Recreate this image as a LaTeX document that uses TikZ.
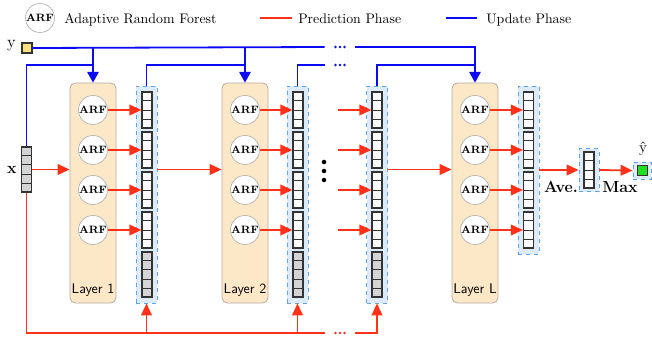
\documentclass[tikz,border=0pt]{standalone}
\usetikzlibrary{arrows.meta,calc}
\definecolor{predred}{HTML}{FF3219}
\definecolor{updblue}{HTML}{0A0AF5}
\definecolor{layerfill}{HTML}{FCE7C6}
\definecolor{layerdraw}{HTML}{B5ACA2}
\definecolor{colfill}{HTML}{DDEAF7}
\definecolor{coldraw}{HTML}{5BA3EC}
\definecolor{cellgray}{HTML}{D4D4D4}
\definecolor{celldraw}{HTML}{333333}
\definecolor{yfill}{HTML}{FBE27A}
\definecolor{yhatfill}{HTML}{22DD22}
\newcommand{\cellstack}[5]{%
  \node[cellgrp,fill=#5,minimum height=#4*6.75pt] (#1) at (#2,#3) {};
  \pgfmathtruncatemacro{\cellsm}{#4-1}
  \foreach \k in {1,...,\cellsm}{
    \draw[draw=celldraw,line width=0.6pt] ($(#1.north west)!\k/#4!(#1.south west)$) -- ($(#1.north east)!\k/#4!(#1.south east)$);
  }
}
\newcommand{\threedots}[2]{%
  \fill[#2] ($(#1)+(-4.5,0)$) circle (1.1pt);
  \fill[#2] (#1) circle (1.1pt);
  \fill[#2] ($(#1)+(4.5,0)$) circle (1.1pt);
}
\begin{document}
\begin{tikzpicture}[x=0.75pt,y=-0.75pt,
  pred/.style={draw=predred,line width=1.35pt},
  predarr/.style={pred,-{Triangle[length=9pt,width=8pt]}},
  upd/.style={draw=updblue,line width=1.35pt},
  updarr/.style={upd,-{Triangle[length=8pt,width=8.5pt]}},
  layerbox/.style={draw=layerdraw,fill=layerfill,rounded corners=4pt,minimum width=34.5pt,minimum height=165pt,inner sep=0pt,line width=0.6pt},
  arf/.style={circle,draw=gray!70,fill=white,minimum size=21.75pt,inner sep=0pt,font=\fontsize{8}{9}\selectfont\bfseries},
  colbox/.style={draw=coldraw,fill=colfill,dashed,line width=0.6pt,minimum width=15.75pt,inner sep=0pt},
  cellgrp/.style={draw=celldraw,line width=0.9pt,minimum width=7.5pt,inner sep=0pt},
  legtext/.style={inner sep=0pt,anchor=base west,font=\fontsize{10.4}{12}\selectfont},
  laylab/.style={inner sep=0pt,font=\sffamily\fontsize{10.5}{12}\selectfont},
  gapdots/.style={inner sep=0pt,minimum width=22.5pt,minimum height=6pt},
  bigdot/.style={circle,fill=black,inner sep=0pt,minimum size=3.4pt},
  boldlab/.style={inner sep=0pt,font=\fontsize{12}{14}\selectfont\bfseries}
]
\useasboundingbox (0,0) rectangle (652,339);

% legend
\node[arf] (lgarf) at (40,18) {ARF};
\node[legtext] (lgarftxt) at (64,23) {Adaptive Random Forest};
\coordinate (lr1) at (260,18);
\coordinate (lr2) at (292,18);
\draw[pred] (lr1) -- (lr2);
\node[legtext] (lgpred) at (298,23) {Prediction Phase};
\coordinate (lb1) at (446,18);
\coordinate (lb2) at (477,18);
\draw[upd] (lb1) -- (lb2);
\node[legtext] (lgupd) at (486,23) {Update Phase};

% inputs
\node[inner sep=0pt,font=\fontsize{12.5}{14}\selectfont] (ylab) at (11.5,46) {y};
\node[draw=celldraw,fill=yfill,line width=0.9pt,minimum size=7.5pt,inner sep=0pt] (ysq) at (27,48) {};
\node[inner sep=0pt,font=\fontsize{12.5}{14}\selectfont] (xlab) at (12,170) {$\mathbf{x}$};
\cellstack{xv}{26.5}{169.5}{5}{cellgray}

% layers
\node[layerbox] (L1) at (93,193) {};
\node[layerbox] (L2) at (245,193) {};
\node[layerbox] (LL) at (475,193) {};
\node[laylab] (lab1) at (93,290) {Layer 1};
\node[laylab] (lab2) at (245,290) {Layer 2};
\node[laylab] (labL) at (475,290) {Layer L};
\foreach \L/\x in {1/93,2/245,L/475}{
  \node[arf] (a\L1) at (\x,110) {ARF};
  \node[arf] (a\L2) at (\x,150) {ARF};
  \node[arf] (a\L3) at (\x,190) {ARF};
  \node[arf] (a\L4) at (\x,230) {ARF};
}

% columns
\node[colbox,minimum height=162.75pt] (col1) at (146.5,194.5) {};
\node[colbox,minimum height=162.75pt] (col2) at (297.5,194.5) {};
\node[colbox,minimum height=162.75pt] (col3) at (377,194.5) {};
\node[colbox,minimum height=126pt] (colL) at (528.5,170) {};
\foreach \c/\x in {1/147,2/298,3/377,L/528.5}{
  \cellstack{c\c a}{\x}{110}{4}{white}
  \cellstack{c\c b}{\x}{150}{4}{white}
  \cellstack{c\c c}{\x}{190}{4}{white}
  \cellstack{c\c d}{\x}{230}{4}{white}
}
\foreach \c/\x in {1/147,2/298,3/377}{
  \cellstack{c\c e}{\x}{274.5}{5}{cellgray}
}

% output
\node[colbox,minimum width=15pt,minimum height=32.25pt] (ave) at (589,170) {};
\cellstack{avec}{589}{170}{4}{white}
\node[colbox,minimum width=13.5pt,minimum height=12.75pt] (yh) at (642,170.5) {};
\node[draw=celldraw,fill=yhatfill,line width=0.9pt,minimum size=7.5pt,inner sep=0pt] (yhs) at (642.5,170.5) {};
\node[inner sep=0pt,font=\fontsize{11.5}{13}\selectfont] (yhlab) at (643,149) {\^{y}};
\node[boldlab] (avelab) at (561,187) {Ave.};
\node[boldlab] (maxlab) at (620,187) {Max};

% vertical dots
\node[bigdot] (vd1) at (324,162) {};
\node[bigdot] (vd2) at (324,171) {};
\node[bigdot] (vd3) at (324,180) {};

% gap dots
\node[gapdots] (dT) at (340,47) {};
\node[gapdots] (d2) at (340,65) {};
\node[gapdots] (dB) at (340,333) {};
\threedots{dT}{updblue}
\threedots{d2}{updblue}
\threedots{dB}{predred}

% prediction arrows ARF -> columns
\foreach \L/\c in {1/1,2/2,L/L}{
  \draw[predarr] (a\L1) -- (c\c a.west);
  \draw[predarr] (a\L2) -- (c\c b.west);
  \draw[predarr] (a\L3) -- (c\c c.west);
  \draw[predarr] (a\L4) -- (c\c d.west);
}
\coordinate (s31) at (338,110);
\coordinate (s32) at (338,150);
\coordinate (s33) at (338,190);
\coordinate (s34) at (338,230);
\draw[predarr] (s31) -- (c3a.west);
\draw[predarr] (s32) -- (c3b.west);
\draw[predarr] (s33) -- (c3c.west);
\draw[predarr] (s34) -- (c3d.west);

% main flow
\draw[predarr] (xv.east) -- (L1.west |- xv.east);
\draw[predarr] (col1.east |- xv.east) -- (L2.west |- xv.east);
\draw[predarr] (col3.east |- xv.east) -- (LL.west |- xv.east);
\draw[predarr] (colL.east) -- (ave.west);
\draw[predarr] (ave.east) -- (yh.west);

% bottom red feedback
\draw[pred] (xv.south) |- (dB.west);
\draw[predarr] (col1.south |- dB) -- (col1.south);
\draw[predarr] (col2.south |- dB) -- (col2.south);
\draw[predarr] (dB.east) -| (col3.south);

% update lines
\draw[upd] (ysq.east) -- (dT.west);
\draw[updarr] (L1.north |- dT) -- (L1.north);
\draw[updarr] (L2.north |- dT) -- (L2.north);
\draw[updarr] (dT.east) -| (LL.north);
\draw[upd] (xv.north) |- (L1.north |- d2);
\draw[upd] (col1.north) |- (L2.north |- d2);
\draw[upd] (col2.north) |- (d2.west);
\draw[upd] (col3.north) |- (LL.north |- d2);
\end{tikzpicture}
\end{document}
